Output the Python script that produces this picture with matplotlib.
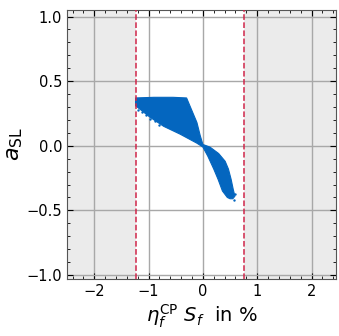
import matplotlib
matplotlib.use("Agg")
import matplotlib.pyplot as plt
from matplotlib.ticker import MultipleLocator

# outline of the dense scan region (eta_f^CP S_f in %, a_SL)
blob_x = [-1.24, -0.9, -0.55, -0.3, -0.2, -0.11, -0.05, 0.0,
          0.13, 0.29, 0.41, 0.47, 0.52, 0.56, 0.59, 0.55, 0.50,
          0.45, 0.36, 0.28, 0.2, 0.09, 0.0,
          -0.11, -0.42, -0.72, -0.97, -1.15, -1.24]
blob_y = [0.37, 0.375, 0.375, 0.37, 0.27, 0.18, 0.08, 0.01,
          -0.01, -0.06, -0.12, -0.18, -0.26, -0.34, -0.39, -0.41, -0.41,
          -0.40, -0.35, -0.26, -0.18, -0.08, -0.01,
          0.02, 0.09, 0.15, 0.22, 0.28, 0.31]

# a few stray points near the edges
stray_x = [-1.2, -1.12, -1.05, -0.98, -0.88, -0.8, 0.52, 0.57, 0.45, 0.6, 0.4]
stray_y = [0.28, 0.26, 0.24, 0.21, 0.19, 0.16, -0.37, -0.42, -0.31, -0.37, -0.33]

# allowed band limits
band_lo = -1.23
band_hi = 0.75

x_lim = (-2.5, 2.45)
y_lim = (-1.03, 1.05)

plt.rcParams['mathtext.fontset'] = 'dejavusans'

fig = plt.figure(figsize=(3.39, 3.36), dpi=100)
ax = fig.add_axes([0.198, 0.170, 0.793, 0.800])

ax.axvspan(x_lim[0], band_lo, color='#ebebeb', zorder=0, lw=0)
ax.axvspan(band_hi, x_lim[1], color='#ebebeb', zorder=0, lw=0)

ax.grid(True, color='#a8a8a8', lw=1.0, zorder=1)
ax.set_axisbelow(True)

ax.fill(blob_x, blob_y, color='#0466bf', lw=0.8, ec='#0466bf', zorder=3)
ax.scatter(stray_x, stray_y, s=3, color='#0466bf', lw=0, zorder=3)

ax.axvline(band_lo, color='#d0264a', ls='--', lw=1.1, zorder=4)
ax.axvline(band_hi, color='#d0264a', ls='--', lw=1.1, zorder=4)

ax.set_xlim(*x_lim)
ax.set_ylim(*y_lim)
ax.xaxis.set_major_locator(MultipleLocator(1))
ax.xaxis.set_minor_locator(MultipleLocator(0.2))
ax.yaxis.set_major_locator(MultipleLocator(0.5))
ax.yaxis.set_minor_locator(MultipleLocator(0.1))
ax.tick_params(which='both', direction='in', top=True, right=True, labelsize=10.5)
ax.tick_params(which='major', length=4)
ax.tick_params(which='minor', length=2)
for s in ax.spines.values():
    s.set_color('#555555')

ax.set_xlabel(r'$\eta_f^{\rm CP}\ S_f$  in %', fontsize=14, labelpad=3)
ax.set_ylabel(r'$a_{\rm SL}$', fontsize=16, labelpad=1)

fig.savefig('out.png', dpi=100)
